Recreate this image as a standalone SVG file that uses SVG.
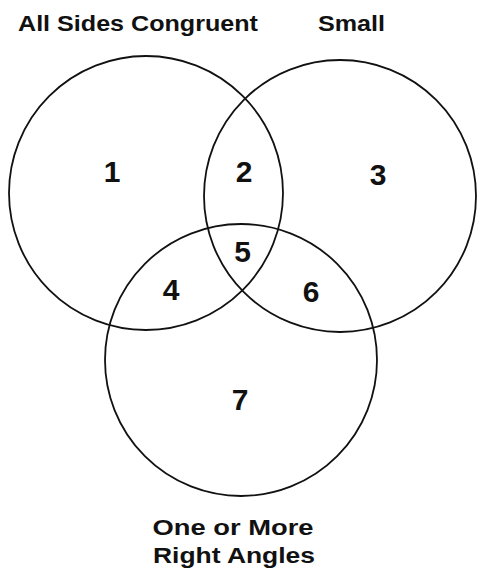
<svg xmlns="http://www.w3.org/2000/svg" width="480" height="571" viewBox="0 0 480 571">
<style>
.c{fill:none;stroke:#111;stroke-width:1.8}
.lbl{font-family:"Liberation Sans",Arial,sans-serif;font-weight:bold;font-size:22px;fill:#111;text-anchor:middle}
.num{font-family:"Liberation Sans",Arial,sans-serif;font-weight:bold;font-size:30px;fill:#111;text-anchor:middle}
</style>
<rect width="480" height="571" fill="#fff"/>
<g id="set-congruent">
<circle class="c" cx="146" cy="193" r="137"/>
<text class="lbl" x="138" y="31" textLength="240" lengthAdjust="spacingAndGlyphs">All Sides Congruent</text>
</g>
<g id="set-small">
<circle class="c" cx="340" cy="196" r="136"/>
<text class="lbl" x="351.5" y="31" textLength="67" lengthAdjust="spacingAndGlyphs">Small</text>
</g>
<g id="set-right-angles">
<circle class="c" cx="241" cy="360" r="136"/>
<text class="lbl" x="233" y="535" textLength="161" lengthAdjust="spacingAndGlyphs">One or More</text>
<text class="lbl" x="234" y="563" textLength="162" lengthAdjust="spacingAndGlyphs">Right Angles</text>
</g>
<g id="regions">
<text class="num" x="112" y="182">1</text>
<text class="num" x="244" y="182">2</text>
<text class="num" x="378" y="185">3</text>
<text class="num" x="171" y="300">4</text>
<text class="num" x="242.5" y="262">5</text>
<text class="num" x="311" y="302">6</text>
<text class="num" x="240" y="410">7</text>
</g>
<g id="connectors"></g>
</svg>
